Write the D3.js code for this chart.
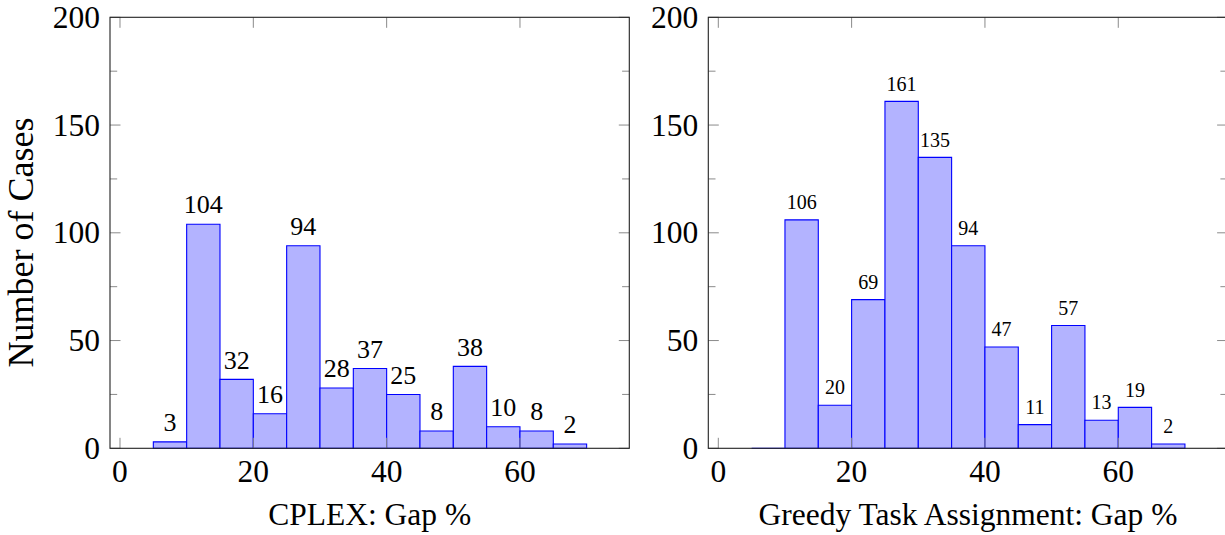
<!DOCTYPE html>
<html>
<head>
<meta charset="utf-8">
<script src="https://cdn.jsdelivr.net/npm/d3@7"></script>
<style>
  html, body { margin: 0; padding: 0; background: #fff; }
  svg { display: block; }
  text { font-family: "Liberation Serif", "Times New Roman", serif; fill: #000; }
</style>
</head>
<body>
<svg id="chart" width="1225" height="535"></svg>
<script>
// ---- data ----
const binStarts = [5, 10, 15, 20, 25, 30, 35, 40, 45, 50, 55, 60, 65];
const binWidth = 5;
const cplexCounts  = [3, 104, 32, 16, 94, 28, 37, 25, 8, 38, 10, 8, 2];
const greedyCounts = [0, 106, 20, 69, 161, 135, 94, 47, 11, 57, 13, 19, 2];
const xTickValues = [0, 20, 40, 60];
const yTickValues = [0, 50, 100, 150, 200];
const yMinorTickValues = [25, 75, 125, 175];
const yLabel = "Number of Cases";
const panels = [
  { title: "CPLEX: Gap %", counts: cplexCounts, left: 110, labelSize: 26, showYLabel: true },
  { title: "Greedy Task Assignment: Gap %", counts: greedyCounts, left: 708.3, labelSize: 20, showYLabel: false }
];

// ---- layout ----
const svg = d3.select("#chart");
const plotW = 519.3;
const plotTop = 17.3, plotBottom = 448.3;
const xDomain = [-1.5, 76.4];
const yDomain = [0, 200];
const majorLen = 10.5, minorLen = 7.2;
const tickColor = "#8a8a8a";
const tickFont = 31.5, titleFont = 31.5, yLabelFont = 36;

panels.forEach(p => {
  const x = d3.scaleLinear().domain(xDomain).range([p.left, p.left + plotW]);
  const y = d3.scaleLinear().domain(yDomain).range([plotBottom, plotTop]);
  const g = svg.append("g");
  const data = binStarts.map((s, i) => ({ x0: s, x1: s + binWidth, v: p.counts[i] }));

  // bars (paths so zero-height bars still show as a line)
  g.selectAll("path.bar").data(data).join("path")
    .attr("class", "bar")
    .attr("d", d => `M${x(d.x0)},${y(0)}V${y(d.v)}H${x(d.x1)}V${y(0)}Z`)
    .attr("fill", "#b3b3ff")
    .attr("stroke", "#0000ff")
    .attr("stroke-width", 1.1);

  // value labels
  g.selectAll("text.val").data(data.filter(d => d.v > 0)).join("text")
    .attr("class", "val")
    .attr("x", d => x((d.x0 + d.x1) / 2))
    .attr("y", d => y(d.v) - 10.8)
    .attr("text-anchor", "middle")
    .attr("font-size", p.labelSize)
    .text(d => d.v);

  // ticks (inward, on all four sides)
  const ticks = g.append("g").attr("stroke", tickColor).attr("stroke-width", 1);
  xTickValues.forEach(t => {
    ticks.append("line").attr("x1", x(t)).attr("x2", x(t)).attr("y1", plotBottom).attr("y2", plotBottom - majorLen);
    ticks.append("line").attr("x1", x(t)).attr("x2", x(t)).attr("y1", plotTop).attr("y2", plotTop + majorLen);
  });
  yTickValues.forEach(t => {
    ticks.append("line").attr("x1", x.range()[0]).attr("x2", x.range()[0] + majorLen).attr("y1", y(t)).attr("y2", y(t));
    ticks.append("line").attr("x1", x.range()[1]).attr("x2", x.range()[1] - majorLen).attr("y1", y(t)).attr("y2", y(t));
  });
  yMinorTickValues.forEach(t => {
    ticks.append("line").attr("x1", x.range()[0]).attr("x2", x.range()[0] + minorLen).attr("y1", y(t)).attr("y2", y(t));
    ticks.append("line").attr("x1", x.range()[1]).attr("x2", x.range()[1] - minorLen).attr("y1", y(t)).attr("y2", y(t));
  });

  // frame
  g.append("rect")
    .attr("x", x.range()[0]).attr("y", plotTop)
    .attr("width", plotW).attr("height", plotBottom - plotTop)
    .attr("fill", "none").attr("stroke", "#222").attr("stroke-width", 1.1);

  // tick labels
  g.selectAll("text.xt").data(xTickValues).join("text")
    .attr("class", "xt")
    .attr("x", d => x(d)).attr("y", 482)
    .attr("text-anchor", "middle").attr("font-size", tickFont)
    .text(d => d);
  g.selectAll("text.yt").data(yTickValues).join("text")
    .attr("class", "yt")
    .attr("x", x.range()[0] - 10).attr("y", d => y(d) + 10.5)
    .attr("text-anchor", "end").attr("font-size", tickFont)
    .text(d => d);

  // axis titles
  g.append("text")
    .attr("x", (x.range()[0] + x.range()[1]) / 2).attr("y", 525)
    .attr("text-anchor", "middle").attr("font-size", titleFont)
    .text(p.title);
  if (p.showYLabel) {
    g.append("text")
      .attr("transform", `translate(33,242.5) rotate(-90)`)
      .attr("text-anchor", "middle").attr("font-size", yLabelFont)
      .text(yLabel);
  }
});
</script>
</body>
</html>
